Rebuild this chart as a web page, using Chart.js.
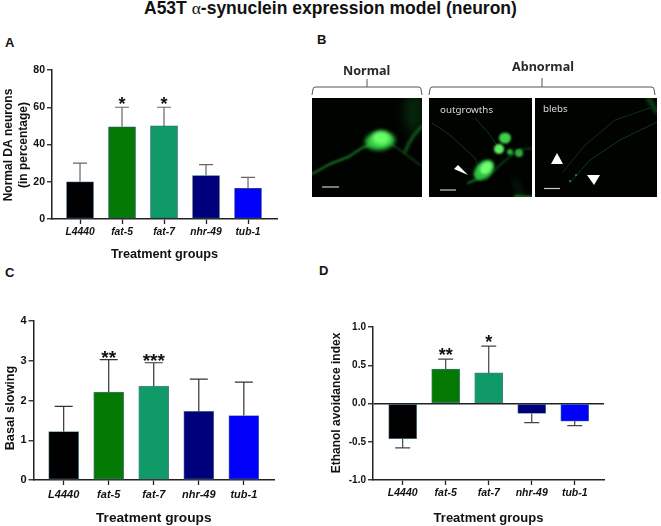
<!DOCTYPE html>
<html>
<head>
<meta charset="utf-8">
<script src="https://cdn.jsdelivr.net/npm/chart.js@4/dist/chart.umd.min.js"></script>
<style>
    html, body { margin: 0; padding: 0; background: #fff; }
    body { position: relative; width: 661px; height: 526px; overflow: hidden; font-family: "Liberation Sans", Arial, sans-serif; color: #111; }
    canvas { position: absolute; }
    .txt { position: absolute; white-space: nowrap; font-weight: bold; line-height: 1; }
    .title { left: 144px; top: 0; font-size: 17.5px; }
    .title span { font-family: "Liberation Serif", serif; font-weight: normal; }
    .letter { font-size: 13px; }
    .head { font-family: "Noto Sans", sans-serif; font-size: 12.6px; color: #2a2a2a; }
    .tag { font-family: "Noto Sans", sans-serif; font-weight: normal; font-size: 9.8px; color: #d8d8d8; }
</style>
</head>
<body>
<div class="txt title">A53T <span>α</span>-synuclein expression model (neuron)</div>
<div class="txt letter" style="left:5px;top:36px">A</div>
<div class="txt letter" style="left:317px;top:33px">B</div>
<div class="txt letter" style="left:5px;top:266px">C</div>
<div class="txt letter" style="left:319px;top:264px">D</div>

<canvas id="micro" width="361" height="180" style="left:300px;top:30px"></canvas>
<div class="txt head" style="left:343px;top:65px">Normal</div>
<div class="txt head" style="left:512px;top:61px">Abnormal</div>
<div class="txt tag" style="left:440px;top:105px">outgrowths</div>
<div class="txt tag" style="left:543px;top:104px">blebs</div>

<canvas id="chartA" width="300" height="202" style="left:0;top:60px"></canvas>
<canvas id="chartC" width="300" height="215" style="left:0;top:311px"></canvas>
<canvas id="chartD" width="341" height="215" style="left:320px;top:311px"></canvas>

<script>
const categories = ['L4440', 'fat-5', 'fat-7', 'nhr-49', 'tub-1'];
const barColors = ['#000000', '#047a04', '#0f9a68', '#00007c', '#0000fb'];

const neuronValues = [20, 49.5, 50, 23.3, 16.5];
const neuronErrorEnds = [30, 60, 60, 29.2, 22.3];
const neuronStars = ['', '*', '*', '', ''];

const slowingValues = [1.22, 2.21, 2.36, 1.73, 1.62];
const slowingErrorEnds = [1.85, 3.03, 2.95, 2.54, 2.46];
const slowingStars = ['', '**', '***', '', ''];

const ethanolValues = [-0.46, 0.45, 0.4, -0.13, -0.23];
const ethanolErrorEnds = [-0.58, 0.58, 0.75, -0.25, -0.29];
const ethanolStars = ['', '**', '*', '', ''];

const FONT = '"Liberation Sans", Arial, sans-serif';

/**
 * Draw the one sided error bars, the significance stars and the y axis title
 */
const extrasPlugin = {
    id: 'extras',
    afterDatasetsDraw(chart, args, opts) {
        const {ctx, scales: {x, y}} = chart;

        ctx.save();
        ctx.strokeStyle = opts.errorColor;
        ctx.lineWidth = 1.2;
        opts.errorEnds.forEach((end, i) => {
            const px = x.getPixelForValue(i);
            const from = y.getPixelForValue(opts.values[i]);
            const to = y.getPixelForValue(end);

            ctx.beginPath();
            ctx.moveTo(px, from);
            ctx.lineTo(px, to);
            ctx.moveTo(px - opts.capWidth, to);
            ctx.lineTo(px + opts.capWidth, to);
            ctx.stroke();
        });

        ctx.fillStyle = '#111';
        ctx.textAlign = 'center';
        ctx.textBaseline = 'alphabetic';
        ctx.font = 'bold ' + opts.starSize + 'px ' + FONT;
        opts.stars.forEach((star, i) => {
            if (star) {
                ctx.fillText(star, x.getPixelForValue(i), y.getPixelForValue(opts.errorEnds[i]) + opts.starOffset);
            }
        });

        ctx.font = 'bold ' + opts.titleSize + 'px ' + FONT;
        ctx.textBaseline = 'middle';
        opts.yTitle.forEach(line => {
            ctx.save();
            ctx.translate(line.x, line.y);
            ctx.rotate(-Math.PI / 2);
            ctx.fillText(line.text, 0, 0);
            ctx.restore();
        });
        ctx.restore();
    }
};

/**
 * Build one bar panel
 *
 * @param {string} id Canvas id
 * @param {number[]} values Bar heights
 * @param {object} cfg Axis layout and annotation settings
 */
const drawPanel = (id, values, cfg) => {
    new Chart(document.getElementById(id), {
        type: 'bar',
        data: {
            datasets: [{
                data: categories.map((c, i) => ({x: i, y: values[i]})),
                backgroundColor: barColors,
                borderColor: cfg.barEdge,
                borderWidth: 0.8,
                borderSkipped: false,
                barThickness: cfg.barWidth
            }]
        },
        options: {
            responsive: false,
            animation: false,
            layout: {padding: {top: cfg.padTop, right: cfg.padRight, left: 0, bottom: 0}},
            plugins: {
                legend: {display: false},
                tooltip: {enabled: false},
                extras: {
                    values: values,
                    errorEnds: cfg.errorEnds,
                    errorColor: cfg.errorColor,
                    capWidth: cfg.capWidth,
                    stars: cfg.stars,
                    starSize: cfg.starSize,
                    starOffset: cfg.starOffset,
                    titleSize: cfg.yTitleSize,
                    yTitle: cfg.yTitle
                }
            },
            scales: {
                x: {
                    type: 'linear',
                    offset: false,
                    min: cfg.xMin,
                    max: cfg.xMax,
                    afterFit: (scale) => { scale.height = cfg.xHeight; },
                    afterBuildTicks: (scale) => {
                        scale.ticks = categories.map((c, i) => ({value: i}));
                    },
                    grid: {display: true, offset: false, drawOnChartArea: false, color: '#222', tickLength: 5, tickWidth: 1.3},
                    border: {color: '#222', width: 1.5},
                    ticks: {
                        autoSkip: false,
                        maxRotation: 0,
                        padding: cfg.xTickPad,
                        color: '#111',
                        font: {family: FONT, size: cfg.xTickSize, weight: 'bold', style: 'italic'},
                        callback: (value) => categories[value]
                    },
                    title: {
                        display: true,
                        text: 'Treatment groups',
                        color: '#111',
                        padding: {top: 0, bottom: 0},
                        font: {family: FONT, size: cfg.xTitleSize, weight: 'bold'}
                    }
                },
                y: {
                    min: cfg.yMin,
                    max: cfg.yMax,
                    afterFit: (scale) => { scale.width = cfg.yWidth; },
                    grid: {
                        display: true,
                        color: (c) => (cfg.zeroLine && c.tick.value === 0 ? '#222' : 'rgba(0,0,0,0)'),
                        lineWidth: 1.5,
                        tickColor: '#222',
                        tickLength: 5,
                        tickWidth: 1.3
                    },
                    border: {color: '#222', width: 1.5},
                    ticks: {
                        stepSize: cfg.yStep,
                        padding: 2,
                        color: '#111',
                        font: {family: FONT, size: cfg.yTickSize, weight: 'bold'},
                        callback: (value) => (cfg.yStep < 1 ? value.toFixed(1) : String(value))
                    }
                }
            }
        },
        plugins: [extrasPlugin]
    });
};

drawPanel('chartA', neuronValues, {
    errorEnds: neuronErrorEnds, stars: neuronStars, errorColor: '#666', barEdge: '#2d5a70', capWidth: 7,
    barWidth: 27, xMin: -0.667, xMax: 4.69, yMin: 0, yMax: 80, yStep: 20,
    padTop: 10, padRight: 23, yWidth: 52, xHeight: 43, xTickPad: 2,
    xTickSize: 10.3, yTickSize: 10.5, xTitleSize: 12.7, yTitleSize: 12, starSize: 18, starOffset: 3,
    yTitle: [{text: 'Normal DA neurons', x: 9, y: 85}, {text: '(in percentage)', x: 24, y: 85}]
});

drawPanel('chartC', slowingValues, {
    errorEnds: slowingErrorEnds, stars: slowingStars, errorColor: '#333', barEdge: '#5a7f90', capWidth: 9,
    barWidth: 30, xMin: -0.67, xMax: 4.67, yMin: 0, yMax: 4, yStep: 1,
    padTop: 10, padRight: 26, yWidth: 33.5, xHeight: 46, xTickPad: 3,
    xTickSize: 11, yTickSize: 11, xTitleSize: 13.7, yTitleSize: 12.7, starSize: 19, starOffset: 4,
    yTitle: [{text: 'Basal slowing', x: 10, y: 97}]
});

drawPanel('chartD', ethanolValues, {
    errorEnds: ethanolErrorEnds, stars: ethanolStars, errorColor: '#444', barEdge: '#4a7a8a', capWidth: 7.5,
    barWidth: 28, xMin: -0.69, xMax: 4.68, yMin: -1, yMax: 1, yStep: 0.5, zeroLine: true,
    padTop: 16, padRight: 57, yWidth: 53, xHeight: 46, xTickPad: 2,
    xTickSize: 10.5, yTickSize: 10, xTitleSize: 13, yTitleSize: 12, starSize: 18, starOffset: 1.5,
    yTitle: [{text: 'Ethanol avoidance index', x: 17, y: 92}]
});

/**
 * Paint the micrograph panel (photo stand-in, coordinates are page pixels)
 */
const drawMicrographs = () => {
    const ctx = document.getElementById('micro').getContext('2d');
    ctx.translate(-300, -30);

    const frames = [[312, 98, 110, 99], [429, 98, 103, 99], [535, 98, 122, 99]];
    ctx.fillStyle = '#010301';
    frames.forEach(f => ctx.fillRect(f[0], f[1], f[2], f[3]));

    const stroke = (points, width, color, blur) => {
        ctx.save();
        ctx.filter = 'blur(' + blur + 'px)';
        ctx.strokeStyle = color;
        ctx.lineWidth = width;
        ctx.lineCap = 'round';
        ctx.beginPath();
        points.forEach((p, i) => (i ? ctx.lineTo(p[0], p[1]) : ctx.moveTo(p[0], p[1])));
        ctx.stroke();
        ctx.restore();
    };

    const blob = (cx, cy, rx, ry, rot, color, blur) => {
        ctx.save();
        ctx.filter = 'blur(' + blur + 'px)';
        ctx.fillStyle = color;
        ctx.beginPath();
        ctx.ellipse(cx, cy, rx, ry, rot, 0, Math.PI * 2);
        ctx.fill();
        ctx.restore();
    };

    // Normal
    ctx.save();
    ctx.beginPath();
    ctx.rect(frames[0][0], frames[0][1], frames[0][2], frames[0][3]);
    ctx.clip();
    blob(414, 112, 9, 22, 0, '#072a0c', 6);
    stroke([[312, 174], [330, 164], [348, 157], [362, 148], [375, 143]], 2, '#187a26', 1);
    stroke([[388, 142], [400, 150], [420, 165]], 1.4, '#11501c', 1);
    stroke([[405, 152], [409, 143], [414, 135], [422, 126]], 2.6, '#176a26', 1.4);
    blob(380, 141, 15, 9, -0.1, '#2fc440', 2);
    blob(381, 138, 9, 7, 0, '#6dff6a', 2);
    ctx.restore();

    // Outgrowths
    ctx.save();
    ctx.beginPath();
    ctx.rect(frames[1][0], frames[1][1], frames[1][2], frames[1][3]);
    ctx.clip();
    stroke([[432, 123], [450, 135], [475, 158], [482, 175]], 0.8, '#0c4a17', 0.7);
    stroke([[475, 118], [490, 135], [500, 150]], 0.8, '#0c4a17', 0.7);
    stroke([[485, 180], [500, 165], [518, 150], [532, 148]], 1.2, '#10601c', 0.9);
    stroke([[515, 180], [522, 197]], 3, '#082e10', 3);
    stroke([[468, 183], [480, 178]], 1.6, '#1d8a2c', 0.8);
    stroke([[515, 196], [532, 197]], 2, '#1d8a2c', 1);
    blob(484, 170, 12, 8, -0.8, '#2dc23e', 1.8);
    blob(486, 168, 7, 5, -0.8, '#79ff76', 1.5);
    blob(505, 138, 6, 5.5, 0, '#3ed04a', 1.3);
    blob(499, 149, 5, 5, 0, '#5fef5f', 1);
    blob(510, 152, 3, 3, 0, '#2fae3c', 1);
    blob(519, 153, 4, 4, 0, '#2fae3c', 1.2);
    ctx.restore();

    // Blebs
    ctx.save();
    ctx.beginPath();
    ctx.rect(frames[2][0], frames[2][1], frames[2][2], frames[2][3]);
    ctx.clip();
    stroke([[563, 172], [585, 145], [615, 120], [650, 108]], 0.7, '#0b4a16', 0.5);
    stroke([[570, 183], [590, 160], [620, 140], [657, 122]], 0.7, '#0e5520', 0.5);
    stroke([[648, 98], [657, 112]], 3.5, '#115c1f', 2);
    blob(576, 175, 1, 1, 0, '#2a9a36', 0.5);
    blob(570, 181, 1, 1, 0, '#2a9a36', 0.5);
    ctx.restore();

    // Arrowheads
    const triangles = [
        [[454, 169], [468, 175], [458, 165]],
        [[551, 164], [563, 164], [557, 153]],
        [[587, 175], [600, 175], [594, 185]]
    ];
    ctx.fillStyle = '#fff';
    triangles.forEach(t => {
        ctx.beginPath();
        ctx.moveTo(t[0][0], t[0][1]);
        ctx.lineTo(t[1][0], t[1][1]);
        ctx.lineTo(t[2][0], t[2][1]);
        ctx.fill();
    });

    // Scale bars
    ctx.strokeStyle = '#c9c9c9';
    ctx.lineWidth = 1.2;
    [[322, 339, 187], [440, 456, 190], [544, 560, 188.5]].forEach(s => {
        ctx.beginPath();
        ctx.moveTo(s[0], s[2]);
        ctx.lineTo(s[1], s[2]);
        ctx.stroke();
    });

    // Brackets
    const bracket = (x0, x1, mid, y, tipY) => {
        ctx.strokeStyle = '#555';
        ctx.lineWidth = 1;
        ctx.beginPath();
        ctx.moveTo(x0, y + 8);
        ctx.lineTo(x0 + 1, y + 2);
        ctx.quadraticCurveTo(x0 + 1, y, x0 + 4, y);
        ctx.lineTo(x1 - 4, y);
        ctx.quadraticCurveTo(x1 - 1, y, x1 - 1, y + 2);
        ctx.lineTo(x1, y + 8);
        ctx.moveTo(mid, y);
        ctx.lineTo(mid, tipY);
        ctx.stroke();
    };
    bracket(312, 422, 367, 87, 79);
    bracket(429, 655, 542, 87, 78);
};

drawMicrographs();
</script>
</body>
</html>
